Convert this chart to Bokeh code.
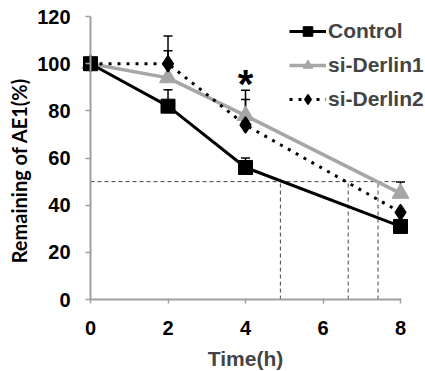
import math
from bokeh.plotting import figure
from bokeh.models import (Range1d, FixedTicker, Whisker, ColumnDataSource, Legend,
                          LegendItem, Label, TeeHead)
from bokeh.core.properties import value
from bokeh.embed import file_html
from bokeh.resources import INLINE

# ---- data ----
time = [0, 2, 4, 8]
control = [100, 82, 56, 31]
derlin1 = [100, 94, 78, 45]
derlin2 = [100, 100, 74, 37]

err_x = [2, 4, 2, 4, 8, 2, 4]
err_base = [82, 56, 94, 78, 45, 100, 74]
err_upper = [89, 60, 105.5, 88.7, 49.8, 111.7, 84.8]

half_level = 50
half_times = [4.9, 6.65, 7.42]

sig_x = [4.0]
sig_y = [91.5]

x_ticks = [0, 2, 4, 6, 8]
y_ticks = [0, 20, 40, 60, 80, 100, 120]

FONT = "Liberation Sans"
GRAY = "#a6a6a6"

p = figure(width=425, height=371, output_backend="svg", toolbar_location=None,
           x_range=Range1d(-2.323, 8.645), y_range=Range1d(-30.5, 126.8),
           min_border_left=0, min_border_right=0, min_border_top=0, min_border_bottom=0)
p.outline_line_color = None
p.grid.grid_line_color = None
p.background_fill_color = "white"

for ax in (p.xaxis[0], p.yaxis[0]):
    ax.axis_line_color = "#a0a0a0"
    ax.axis_line_width = 2
    ax.major_tick_line_color = "#a0a0a0"
    ax.major_tick_line_width = 1.5
    ax.minor_tick_line_color = None
    ax.major_label_text_font = FONT
    ax.major_label_text_font_style = "bold"
    ax.major_label_text_font_size = "20px"
    ax.major_label_text_color = "black"

p.xaxis.ticker = FixedTicker(ticks=x_ticks)
p.yaxis.ticker = FixedTicker(ticks=y_ticks)
p.xaxis.bounds = (0, 8)
p.yaxis.bounds = (0, 120)
p.yaxis.fixed_location = 0
p.xaxis.fixed_location = 0
p.xaxis.major_tick_in = 1
p.xaxis.major_tick_out = 4
p.yaxis.major_tick_in = 0
p.yaxis.major_tick_out = 5
p.yaxis.major_label_standoff = 15
p.xaxis.major_label_standoff = 17
p.xaxis.axis_label = "Time(h)"
p.xaxis.axis_label_text_font = FONT
p.xaxis.axis_label_text_font_style = "bold"
p.xaxis.axis_label_text_font_size = "21px"
p.xaxis.axis_label_standoff = 9

ylab = Label(x=-1.84, y=54.7, text="Remaining of AE1(%)", angle=math.pi / 2,
             text_align="center", text_baseline="middle",
             text_font="Lato", text_font_style="bold", text_font_size="20px",
             text_color="black")
p.add_layout(ylab)

# reference dashed lines
p.segment(x0=[0], y0=[half_level], x1=[x_ticks[-1]], y1=[half_level],
          line_color="#444444", line_width=1, line_dash="4 3")
p.segment(x0=half_times, y0=[0] * len(half_times), x1=half_times,
          y1=[half_level] * len(half_times),
          line_color="#444444", line_width=1, line_dash="4 3")

# error bars
esrc = ColumnDataSource(dict(x=err_x, lo=err_base, hi=err_upper))
p.add_layout(Whisker(source=esrc, base="x", lower="lo", upper="hi", dimension="height",
                     line_color="black", line_width=1.5, lower_head=None,
                     upper_head=TeeHead(size=9, line_color="black", line_width=1.5)))

# series
l1 = p.line(time, derlin1, line_color=GRAY, line_width=3.5)
m1 = p.scatter(time, derlin1, marker="triangle", size=17, fill_color=GRAY, line_color=GRAY)
l2 = p.line(time, derlin2, line_color="black", line_width=3, line_dash="3 6")
m2 = p.scatter(time, derlin2, marker="diamond", size=16,
               fill_color="black", line_color="black", line_width=1.5)
l0 = p.line(time, control, line_color="black", line_width=3)
m0 = p.scatter(time, control, marker="square", size=14, fill_color="black", line_color="black")

p.text(x=sig_x, y=sig_y, text=["*"], text_font=value(FONT), text_font_style="bold",
       text_font_size="40px", text_align="center", text_baseline="middle", text_color="black")

legend = Legend(items=[
    LegendItem(label="Control", renderers=[l0, m0]),
    LegendItem(label="si-Derlin1", renderers=[l1, m1]),
    LegendItem(label="si-Derlin2", renderers=[l2, m2]),
], location=(289, 260))
legend.label_text_font = FONT
legend.label_text_font_style = "bold"
legend.label_text_font_size = "21px"
legend.glyph_width = 37
legend.glyph_height = 24
legend.label_height = 24
legend.spacing = 10
legend.label_standoff = 2
legend.padding = 0
legend.margin = 0
legend.border_line_color = None
legend.background_fill_alpha = 0
p.add_layout(legend)

open("out.html", "w").write(file_html(p, INLINE))
